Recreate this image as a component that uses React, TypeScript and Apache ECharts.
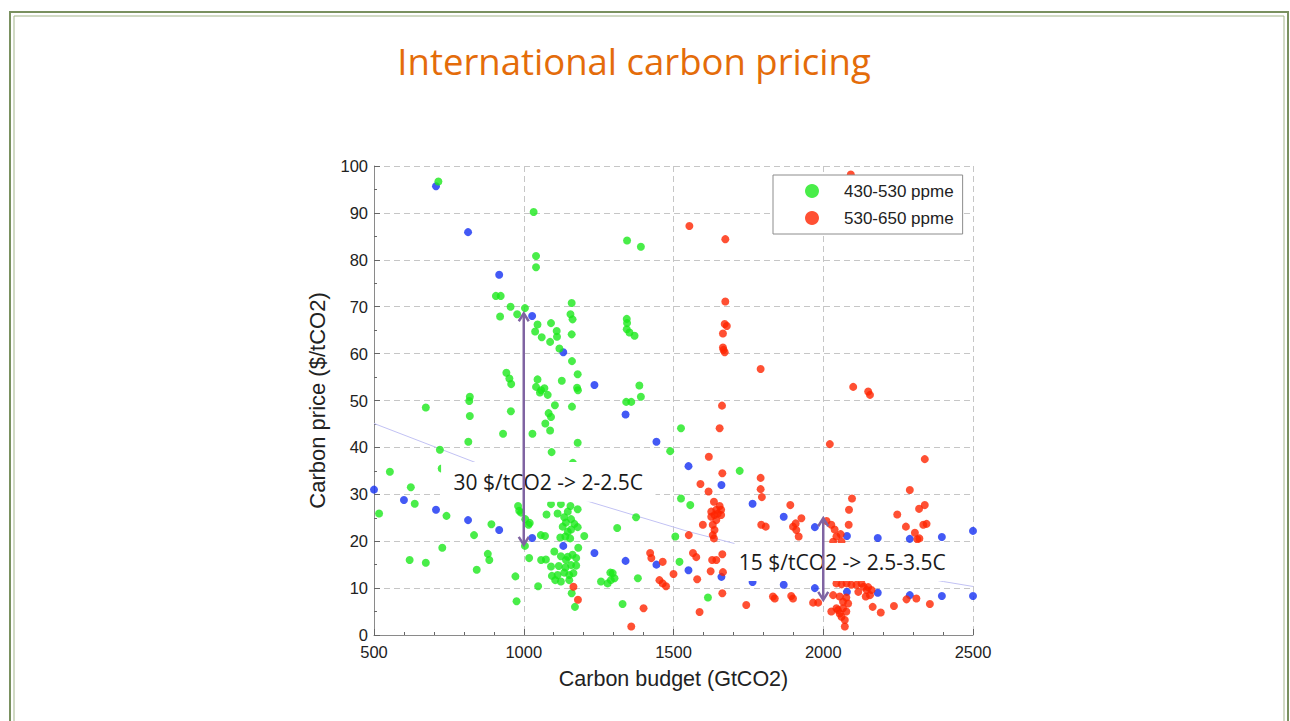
import React, { useEffect, useRef } from "react";
import * as echarts from "echarts";

const titleText = "International carbon pricing";
const xAxisName = "Carbon budget (GtCO2)";
const yAxisName = "Carbon price ($/tCO2)";
const legendNames = ["430-530 ppme", "530-650 ppme"];

// 430-530 ppme scenarios (green)
const greenPoints: number[][] = [
  [715, 96.7], [1033, 90.2], [1041, 80.8], [1041, 78.4], [907, 72.3], [923, 72.3], [921, 67.9], [956, 70],
  [978, 68.4], [1004, 69.7], [1038, 64.7], [942, 55.9], [952, 54.7], [958, 53.5], [820, 50.8], [818, 49.9],
  [673, 48.5], [820, 46.7], [957, 47.7], [931, 42.9], [1029, 42.9], [815, 41.2], [720, 39.5], [553, 34.8],
  [726, 35.5], [623, 31.5], [636, 28], [517, 25.9], [742, 25.4], [981, 27.5], [985, 26.5], [991, 26.1],
  [892, 23.6], [834, 21.3], [728, 18.6], [1004, 19], [1018, 16.4], [619, 16], [673, 15.4], [880, 17.3],
  [885, 16], [843, 13.9], [972, 12.5], [976, 7.2], [1048, 10.4],
  [1160, 70.8], [1156, 68.4], [1163, 67.3], [1091, 66.5], [1046, 66.2], [1110, 64.8], [1111, 63.6], [1060, 63.5],
  [1088, 62.5], [1160, 64.1], [1119, 61.1], [1161, 58.4], [1180, 55.6], [1046, 54.5], [1041, 52.9], [1058, 52.2],
  [1069, 52.6], [1080, 51.2], [1054, 51.7], [1127, 54.2], [1178, 52.7], [1181, 52.2], [1104, 49], [1161, 48.7],
  [1345, 84.1], [1391, 82.8], [1344, 67.4], [1345, 66.5], [1344, 65.2], [1353, 64.5], [1370, 63.8], [1386, 53.2],
  [1391, 50.8], [1342, 49.7], [1359, 49.7],
  [1083, 47.3], [1091, 46.5], [1072, 45.1], [1088, 43.6], [1180, 41], [1093, 39], [1164, 36.7], [1525, 44.1],
  [1489, 39.2], [1525, 29.1], [1556, 27.7], [1375, 25.1], [1312, 22.8], [1506, 21], [1520, 15.6], [1381, 12.1],
  [1258, 11.4], [1280, 11], [1291, 11.7], [1303, 12.1], [1297, 13.2], [1289, 13.3], [1330, 6.6], [1171, 6],
  [1005, 24.7], [1016, 23.5], [1020, 23.9],
  [1091, 27.9], [1124, 27.9], [1156, 27.5], [1076, 25.7], [1113, 25.9], [1147, 26.3], [1180, 26.8], [1135, 25.1],
  [1158, 24.7], [1141, 24], [1169, 23.7], [1130, 23.1], [1158, 22.5], [1147, 22], [1180, 23], [1122, 20.8],
  [1139, 21], [1155, 20.6], [1071, 21.1], [1057, 21.3], [1202, 21.1], [1182, 18.6], [1102, 17.8], [1124, 16.8],
  [1147, 16.7], [1163, 17.1], [1175, 16.4], [1141, 16], [1058, 16], [1074, 16.1], [1091, 14.6], [1117, 14.7],
  [1139, 14.4], [1158, 14.9], [1175, 14.8], [1135, 13.3], [1113, 12.8], [1094, 12.6], [1152, 12.8], [1166, 13.2],
  [1105, 11.7], [1124, 11.4], [1152, 11.7], [1160, 8.9],
  [1615, 8], [1721, 35],
];

// 530-650 ppme scenarios (red)
const redPoints: number[][] = [
  [1553, 87.2], [2092, 98.2], [1673, 84.4], [1673, 71.1], [1671, 66.3], [1678, 65.9], [1665, 64.3], [1665, 61.3],
  [1667, 60.8], [1671, 60.3], [1791, 56.7], [2100, 52.9], [2150, 51.9], [2156, 51.2],
  [1662, 48.9], [1654, 44.1], [2022, 40.7], [1618, 38], [1663, 34.5], [1791, 33.5], [1590, 32.2], [1791, 31.1],
  [1795, 29.4], [1617, 30.6], [2339, 37.5], [2289, 30.9], [2096, 29.1], [1890, 27.7], [2086, 26.7],
  [1927, 24.9], [1908, 23.8], [1899, 23.1], [1910, 22.4], [1918, 21],
  [2011, 24.3], [2027, 23.5], [2038, 22.5], [2044, 21], [2033, 19.9], [2085, 23.5], [2058, 21.5], [2061, 19.9],
  [2247, 25.7], [2339, 27.7], [2320, 26.9], [2276, 23.1], [2306, 21.8], [2321, 20.6], [2314, 20.4], [2334, 23.5],
  [2345, 23.7], [1598, 23.5],
  [1635, 28.4], [1654, 27.5], [1659, 26.7], [1643, 26.7], [1626, 26.3], [1637, 25.6], [1659, 25.6], [1643, 24.5],
  [1631, 23.5], [1637, 22.4], [1631, 21.3], [1635, 20.6], [1626, 25.2], [1648, 25.9],
  [1551, 21.3], [1422, 17.5], [1426, 16.4], [1464, 15.6], [1565, 17.5], [1576, 16.6], [1663, 17.2], [1629, 16],
  [1643, 16], [1500, 13], [1453, 11.7], [1464, 11], [1475, 10.4], [1579, 11.9], [1624, 13.6], [1665, 13.4],
  [1663, 8.9], [1400, 5.7], [1587, 4.9], [1359, 1.8], [1743, 6.4], [1166, 10.3], [1181, 7.5],
  [1793, 23.5], [1808, 23.1], [1832, 8.2], [1838, 7.8], [1893, 8.3], [1899, 7.8], [1966, 6.9], [1983, 6.9],
  [2044, 11], [2061, 10.8], [2078, 11], [2094, 10.7], [2111, 10.7], [2135, 10.3], [2150, 10.2], [2128, 11],
  [2161, 9.6], [2145, 9.6], [2156, 8.5], [2142, 8.2], [2033, 8.5], [2055, 8.2], [2117, 9.2], [2077, 8],
  [2027, 5], [2049, 5.3], [2066, 5.7], [2077, 5], [2061, 3.9], [2072, 3.2], [2055, 4.6], [2066, 7.1],
  [2083, 6.7], [2072, 1.8], [2044, 5.7], [2165, 6], [2192, 4.8], [2236, 6.2], [2278, 7.6], [2311, 7.8],
  [2356, 6.6],
];

// other scenarios (blue)
const bluePoints: number[][] = [
  [707, 95.7], [814, 85.9], [918, 76.8], [1028, 68], [1132, 60.3], [1236, 53.3], [1340, 47], [1443, 41.2],
  [1550, 36], [1660, 32], [1764, 28], [1868, 25.2], [1972, 23], [2079, 21.1], [2182, 20.7], [2289, 20.5],
  [2396, 20.9], [2500, 22.2],
  [500, 31], [600, 28.8], [707, 26.7], [814, 24.5], [918, 22.4], [1028, 20.7], [1132, 19], [1236, 17.5],
  [1340, 15.8], [1443, 15], [1550, 13.8], [1660, 12.4], [1764, 11.3], [1868, 10.7], [1972, 10], [2079, 9.2],
  [2182, 9], [2289, 8.5], [2396, 8.3], [2500, 8.3],
];

const trendLine: number[][] = [
  [500, 45.1], [846, 36.6], [1225, 28.3], [1553, 22], [1704, 19.5], [2401, 11.4], [2500, 10.35],
];

// [x, top, bottom]
const arrowSpans: number[][] = [
  [1000, 68.6, 19.2],
  [2000, 24.9, 7.5],
];

// [x0, y0, x1, y1]
const noteBoxes: number[][] = [
  [724, 36.9, 1440, 28.4],
  [1704, 19.6, 2423, 11.5],
];
const noteLabels = ["30 $/tCO2 -> 2-2.5C", "15 $/tCO2 -> 2.5-3.5C"];

const GREEN = "#1BE81B";
const RED = "#FF2400";
const BLUE = "#1430F2";
const ARROW = "#8064A2";

export default function App() {
  const ref = useRef<HTMLDivElement>(null);

  useEffect(() => {
    if (!ref.current) return;
    const chart = echarts.init(ref.current, null, { renderer: "svg" });
    const axisFont = "Liberation Sans";
    const gridLine = { show: true, lineStyle: { color: "#C6C6C6", type: [6, 4], width: 1 } };

    const option: any = {
      animation: false,
      backgroundColor: "#ffffff",
      title: {
        text: titleText,
        left: 629,
        textAlign: "center",
        top: 37,
        textStyle: { color: "#E46C0A", fontSize: 36.5, fontWeight: "normal", fontFamily: "Open Sans" },
      },
      graphic: [
        { type: "rect", shape: { x: 10, y: 12, width: 1278, height: 730 }, style: { fill: "none", stroke: "#7A9160", lineWidth: 2 }, silent: true },
        { type: "rect", shape: { x: 14, y: 16, width: 1270, height: 730 }, style: { fill: "none", stroke: "#A3B58A", lineWidth: 1 }, silent: true },
      ],
      grid: { left: 374, top: 166, width: 599, height: 469, containLabel: false },
      legend: {
        data: legendNames,
        orient: "vertical",
        left: 773,
        top: 175,
        padding: [7, 9, 7, 32],
        itemGap: 9,
        itemWidth: 14,
        itemHeight: 14,
        icon: "circle",
        selectedMode: false,
        backgroundColor: "#ffffff",
        borderColor: "#8C8C8C",
        borderWidth: 1,
        textStyle: { fontSize: 17, color: "#222", fontFamily: axisFont, padding: [0, 0, 0, 20], lineHeight: 18 },
      },
      xAxis: {
        type: "value",
        min: 500,
        max: 2500,
        interval: 500,
        name: xAxisName,
        nameLocation: "middle",
        nameGap: 33,
        nameTextStyle: { fontSize: 21.5, color: "#222", fontFamily: axisFont },
        axisLine: { show: true, lineStyle: { color: "#8A8A8A", width: 1 } },
        axisTick: { show: true, inside: true, length: 6, lineStyle: { color: "#666" } },
        minorTick: { show: true, splitNumber: 5, length: 3, lineStyle: { color: "#666" } },
        axisLabel: { fontSize: 16.5, color: "#222", margin: 8, fontFamily: axisFont, formatter: (v: number) => String(v) },
        splitLine: gridLine,
      },
      yAxis: {
        type: "value",
        min: 0,
        max: 100,
        interval: 10,
        name: yAxisName,
        nameLocation: "middle",
        nameGap: 46,
        nameTextStyle: { fontSize: 22, color: "#222", fontFamily: axisFont },
        axisLine: { show: true, lineStyle: { color: "#8A8A8A", width: 1 } },
        axisTick: { show: true, inside: true, length: 6, lineStyle: { color: "#666" } },
        minorTick: { show: true, splitNumber: 2, length: 3, lineStyle: { color: "#666" } },
        axisLabel: { fontSize: 16.5, color: "#222", margin: 6, fontFamily: axisFont, formatter: (v: number) => String(v) },
        splitLine: gridLine,
      },
      series: [
        {
          name: "other",
          type: "scatter",
          data: bluePoints,
          symbolSize: 8,
          itemStyle: { color: BLUE },
          z: 2,
        },
        {
          name: legendNames[0],
          type: "scatter",
          data: greenPoints,
          symbolSize: 8,
          itemStyle: { color: GREEN },
          z: 2,
        },
        {
          name: legendNames[1],
          type: "scatter",
          data: redPoints,
          symbolSize: 8,
          itemStyle: { color: RED },
          z: 2,
        },
        {
          name: "trend",
          type: "line",
          data: trendLine,
          showSymbol: false,
          symbol: "none",
          lineStyle: { color: "#C2C2F4", width: 1 },
          z: 1,
        },
        {
          name: "notes",
          type: "custom",
          data: noteBoxes,
          z: 5,
          clip: false,
          renderItem: (params: any, api: any) => {
            const p0 = api.coord([api.value(0), api.value(1)]);
            const p1 = api.coord([api.value(2), api.value(3)]);
            const cx = (p0[0] + p1[0]) / 2;
            const cy = (p0[1] + p1[1]) / 2;
            return {
              type: "group",
              children: [
                {
                  type: "rect",
                  shape: { x: p0[0], y: p0[1], width: p1[0] - p0[0], height: p1[1] - p0[1] },
                  style: { fill: "#ffffff", stroke: "none" },
                },
                {
                  type: "text",
                  x: cx,
                  y: cy,
                  style: {
                    text: noteLabels[params.dataIndex],
                    fill: "#1a1a1a",
                    fontSize: 21,
                    fontFamily: "Open Sans",
                    textAlign: "center",
                    textVerticalAlign: "middle",
                  },
                },
              ],
            };
          },
        },
        {
          name: "arrows",
          type: "custom",
          data: arrowSpans,
          z: 6,
          clip: false,
          renderItem: (params: any, api: any) => {
            const x = api.value(0);
            const top = api.coord([x, api.value(1)]);
            const bot = api.coord([x, api.value(2)]);
            const st = { stroke: ARROW, lineWidth: 2.5, fill: "none" };
            return {
              type: "group",
              children: [
                { type: "line", shape: { x1: top[0], y1: top[1] + 1, x2: bot[0], y2: bot[1] - 1 }, style: st },
                { type: "polyline", shape: { points: [[top[0] - 5, top[1] + 8], [top[0], top[1]], [top[0] + 5, top[1] + 8]] }, style: st },
                { type: "polyline", shape: { points: [[bot[0] - 5, bot[1] - 8], [bot[0], bot[1]], [bot[0] + 5, bot[1] - 8]] }, style: st },
              ],
            };
          },
        },
      ],
    };

    chart.setOption(option);
    return () => {
      chart.dispose();
    };
  }, []);

  return (
    <div
      ref={ref}
      style={{ position: "fixed", left: 0, top: 0, width: 1290, height: 721, background: "#fff" }}
    />
  );
}
